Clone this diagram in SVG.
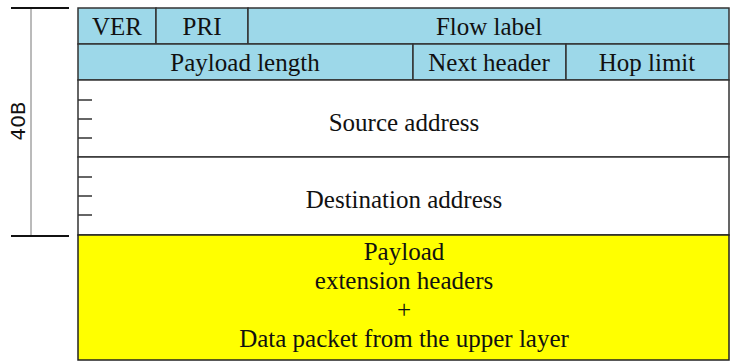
<svg xmlns="http://www.w3.org/2000/svg" width="730" height="363" viewBox="0 0 730 363">
<style>
.hdr{fill:#9dd8e9;stroke:#333;stroke-width:1.5}
.wht{fill:#fff;stroke:#333;stroke-width:1.5}
.yel{fill:#ffff00;stroke:#222;stroke-width:1.5}
.t,.p{font-family:"Liberation Serif","Times New Roman",serif;font-size:25px;fill:#111;text-anchor:middle}
.tick{stroke:#333;stroke-width:1.5}
</style>
<rect width="730" height="363" fill="#fff"/>
<g id="dimension">
<line x1="31" y1="8" x2="31" y2="236" stroke="#777" stroke-width="1"/>
<line x1="11" y1="8" x2="69" y2="8" stroke="#111" stroke-width="2"/>
<line x1="11" y1="236" x2="69" y2="236" stroke="#111" stroke-width="2"/>
<text x="25" y="121" transform="rotate(-90 25 121)" style="font-family:'DejaVu Sans',sans-serif;font-size:20px;fill:#111;text-anchor:middle">40B</text>
</g>
<g id="ver"><rect class="hdr" x="78" y="8" width="78" height="36"/><text class="t" x="117" y="35">VER</text></g>
<g id="pri"><rect class="hdr" x="156" y="8" width="92" height="36"/><text class="t" x="202" y="35">PRI</text></g>
<g id="flow"><rect class="hdr" x="248" y="8" width="481" height="36"/><text class="t" x="489" y="35">Flow label</text></g>
<g id="plen"><rect class="hdr" x="78" y="44" width="335" height="36"/><text class="t" x="245" y="71">Payload length</text></g>
<g id="next"><rect class="hdr" x="413" y="44" width="153" height="36"/><text class="t" x="489" y="71">Next header</text></g>
<g id="hop"><rect class="hdr" x="566" y="44" width="163" height="36"/><text class="t" x="647" y="71">Hop limit</text></g>
<g id="src"><rect class="wht" x="78" y="80" width="651" height="77"/>
<line class="tick" x1="78" y1="100" x2="92" y2="100"/><line class="tick" x1="78" y1="119" x2="92" y2="119"/><line class="tick" x1="78" y1="138" x2="92" y2="138"/>
<text class="t" x="404" y="131">Source address</text></g>
<g id="dst"><rect class="wht" x="78" y="157" width="651" height="78"/>
<line class="tick" x1="78" y1="177" x2="92" y2="177"/><line class="tick" x1="78" y1="196" x2="92" y2="196"/><line class="tick" x1="78" y1="215" x2="92" y2="215"/>
<text class="t" x="404" y="208">Destination address</text></g>
<g id="payload"><rect class="yel" x="78" y="235" width="651" height="125"/>
<text class="p" x="404" y="260">Payload</text>
<text class="p" x="404" y="289">extension headers</text>
<text class="p" x="404" y="318">+</text>
<text class="p" x="404" y="347">Data packet from the upper layer</text></g>
<g id="connectors"></g>
</svg>
